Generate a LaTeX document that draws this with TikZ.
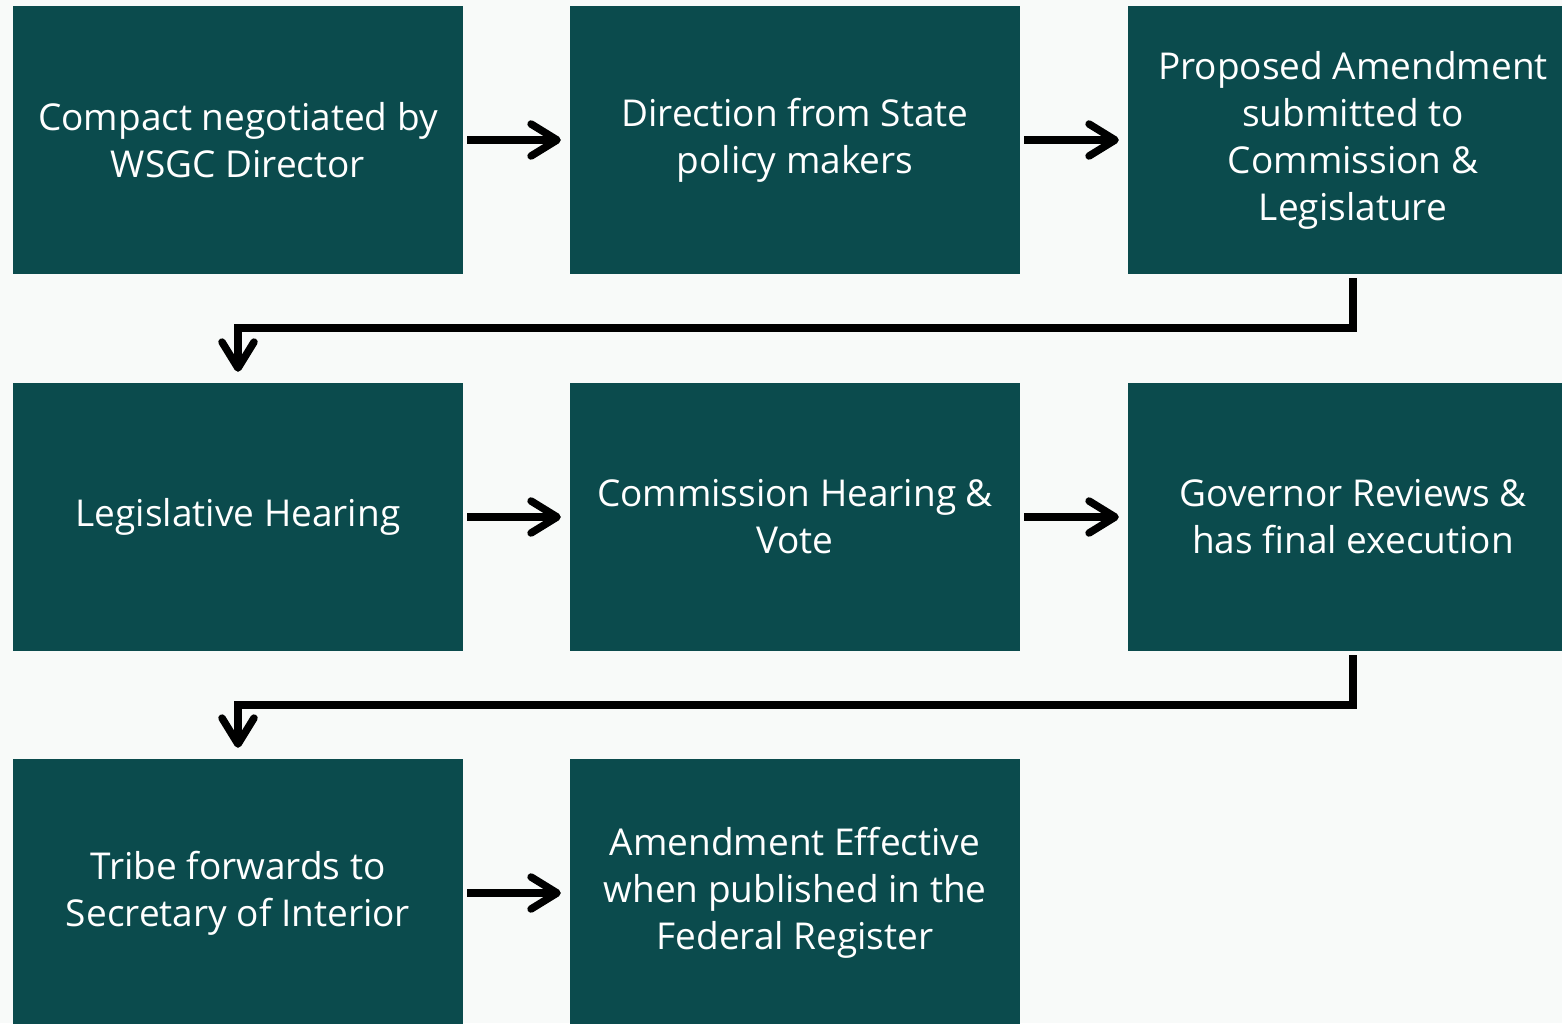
\documentclass[tikz,border=0pt]{standalone}
\usepackage{fontspec}
\setmainfont{Open Sans}
\usetikzlibrary{arrows.meta}
\definecolor{boxc}{HTML}{0B4B4D}
\definecolor{bgc}{HTML}{F8FAF9}
\tikzset{
  box/.style={fill=boxc, draw=none, minimum width=450pt, minimum height=268pt, inner sep=0pt,
    align=center, text=white, font=\fontsize{37}{47}\selectfont},
  arr/.style={line width=7.5pt, -{Straight Barb[length=26pt,width=32pt,round]}},
}
\begin{document}
\begin{tikzpicture}[x=1pt,y=-1pt]
\useasboundingbox (0,0) rectangle (1562,1023);
\clip (0,0) rectangle (1562,1023);
\fill[bgc] (0,0) rectangle (1562,1023);
\node[box] (b1) at (238,140) {Compact negotiated by\\WSGC Director};
\node[box] (b2) at (795,140) {Direction from State\\policy makers};
\node[box] (b3) at (1353,140) {Proposed Amendment\\submitted to\\Commission \&\\Legislature};
\node[box] (b4) at (238,517) {Legislative Hearing};
\node[box] (b5) at (795,517) {Commission Hearing \&\\Vote};
\node[box] (b6) at (1353,517) {Governor Reviews \&\\has final execution};
\node[box] (b7) at (238,893) {Tribe forwards to\\Secretary of Interior};
\node[box] (b8) at (795,893) {Amendment Effective\\when published in the\\Federal Register};
\draw[arr] ([xshift=4pt]b1.east) -- ([xshift=-9pt]b2.west);
\draw[arr] ([xshift=4pt]b2.east) -- ([xshift=-9pt]b3.west);
\draw[arr] ([xshift=4pt]b4.east) -- ([xshift=-9pt]b5.west);
\draw[arr] ([xshift=4pt]b5.east) -- ([xshift=-9pt]b6.west);
\draw[arr] ([xshift=4pt]b7.east) -- ([xshift=-9pt]b8.west);
\draw[arr] ([yshift=-4pt]b3.south) -- ++(0,50) -| ([yshift=11pt]b4.north);
\draw[arr] ([yshift=-4pt]b6.south) -- ++(0,50) -| ([yshift=11pt]b7.north);
\end{tikzpicture}
\end{document}
